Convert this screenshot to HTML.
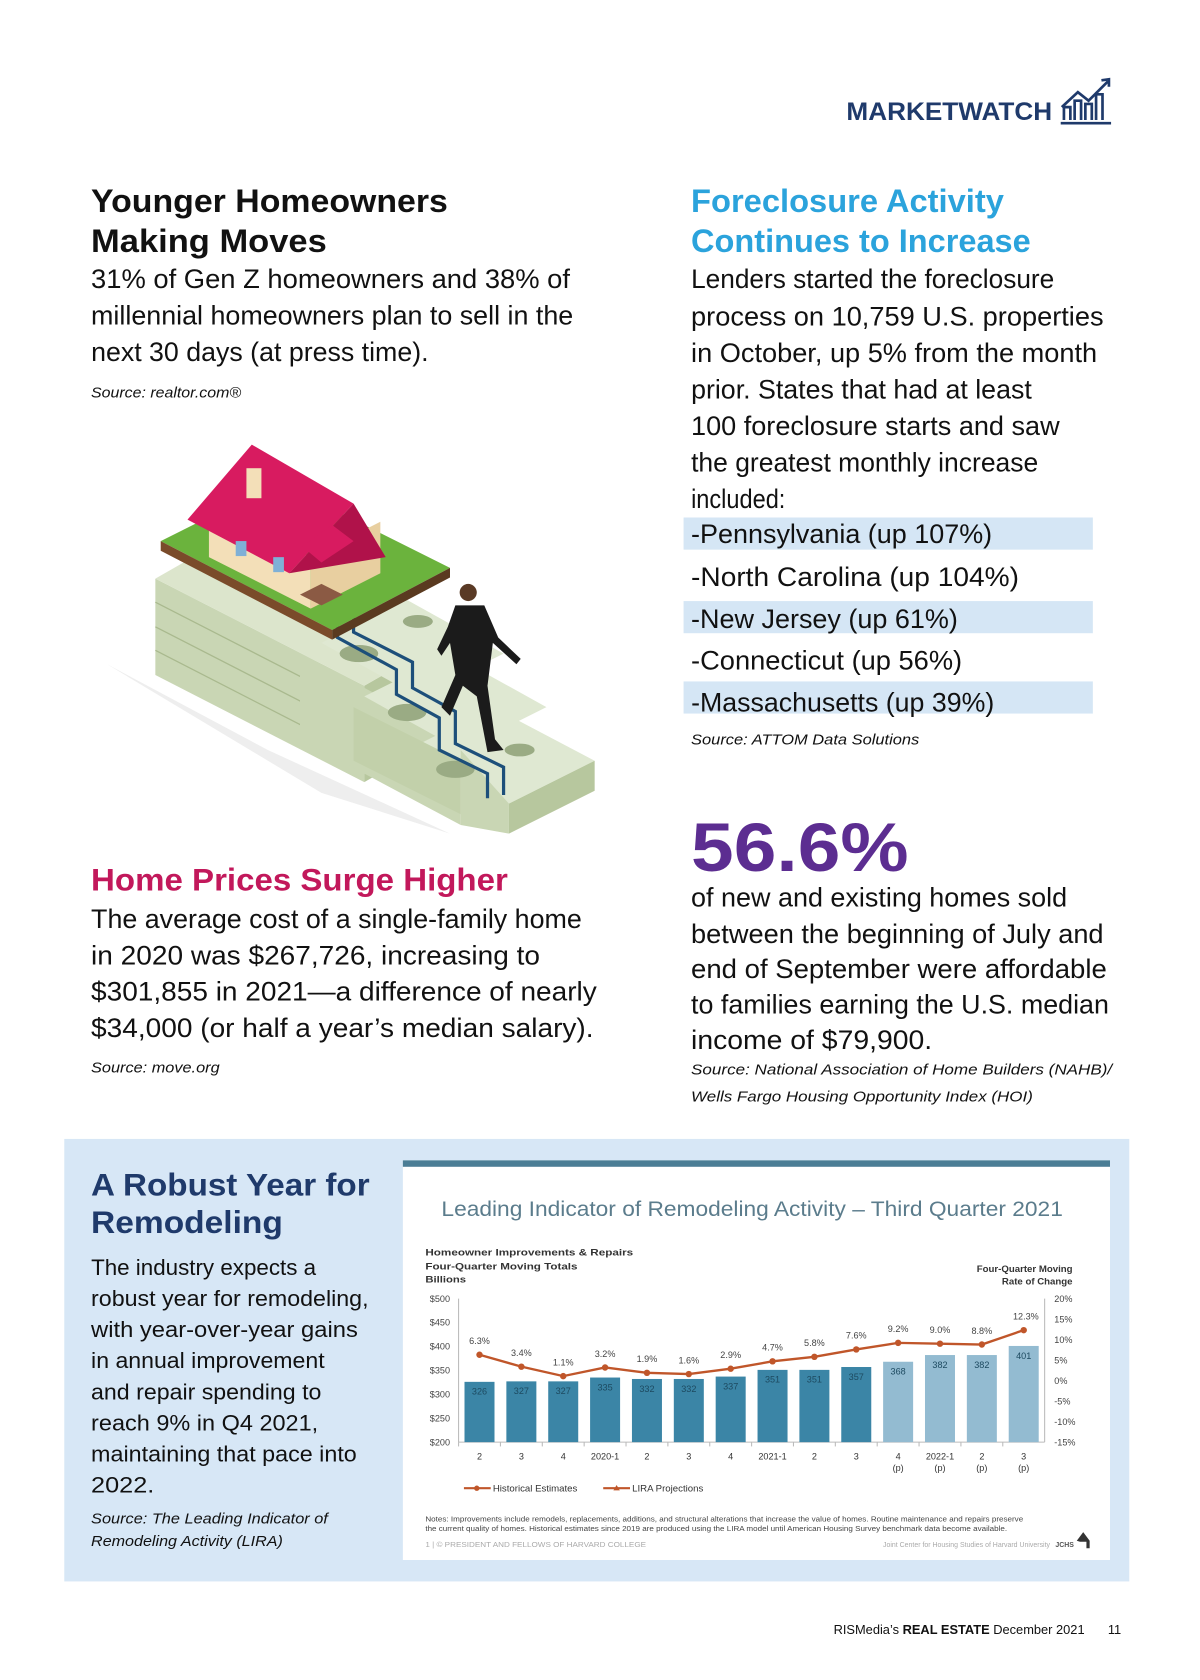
<!DOCTYPE html>
<html><head><meta charset="utf-8"><style>
html,body{margin:0;padding:0;background:#fff;}
svg{display:block;}
text{font-family:"Liberation Sans",sans-serif;}
</style></head><body>
<svg id="page" width="1200" height="1680" viewBox="0 0 1120 1568" xmlns="http://www.w3.org/2000/svg">
<rect x="0" y="0" width="1120" height="1568" fill="#fff"/>
<g>
<text x="790" y="112" font-size="23" font-weight="bold" fill="#1f3a6b" textLength="192" lengthAdjust="spacingAndGlyphs">MARKETWATCH</text>
<g fill="none" stroke="#1f3a6b" stroke-width="2.5">
<path d="M991 100 L1006 86 L1016 94 L1034 76"/><path d="M1028 75 L1035 74 L1035 81"/>
<path d="M993 112 V100 H999 V112 M1003 112 V94 H1009 V112 M1013 112 V97 H1019 V112 M1023 112 V88 H1029 V112"/>
<path d="M990 115 H1037"/>
</g>
</g>
<g>
<text x="85" y="198" font-size="30" font-weight="bold" fill="#111" textLength="333" lengthAdjust="spacingAndGlyphs">Younger Homeowners</text>
<text x="85" y="235" font-size="30" font-weight="bold" fill="#111" textLength="220" lengthAdjust="spacingAndGlyphs">Making Moves</text>
<g font-size="25" fill="#111">
<text x="85" y="269" textLength="447" lengthAdjust="spacingAndGlyphs">31% of Gen Z homeowners and 38% of</text>
<text x="85" y="303" textLength="450" lengthAdjust="spacingAndGlyphs">millennial homeowners plan to sell in the</text>
<text x="85" y="337" textLength="315" lengthAdjust="spacingAndGlyphs">next 30 days (at press time).</text>
</g>
<text x="85" y="371" font-size="14" font-style="italic" fill="#111" textLength="140" lengthAdjust="spacingAndGlyphs">Source: realtor.com®</text>
</g>
<g>
<polygon points="100,620 300,740 420,778 250,700" fill="#eee"/>
<polygon points="145,540 340,640 340,730 145,630" fill="#c9d6b4"/>
<polygon points="340,640 410,600 410,690 340,730" fill="#b7c79e"/>
<polygon points="145,540 215,500 410,600 340,640" fill="#dce5cc"/>
<g stroke="#a9b98e" stroke-width="1.2"><line x1="145" y1="562" x2="340" y2="662"/><line x1="145" y1="585" x2="340" y2="685"/><line x1="145" y1="607" x2="340" y2="707"/></g>
<polygon points="280,610 430,690 430,770 280,690" fill="#c9d6b4"/>
<polygon points="300,600 380,560 470,610 390,650" fill="#dfe8d2"/>
<polygon points="340,650 420,610 510,660 430,700" fill="#dfe8d2"/>
<polygon points="380,700 460,660 555,710 475,750" fill="#dfe8d2"/>
<polygon points="430,700 475,750 475,778 430,770" fill="#c9d6b4"/>
<polygon points="475,750 555,710 555,738 475,778" fill="#b7c79e"/>
<polygon points="330,660 430,710 430,760 330,710" fill="#c2d0aa"/>
<g fill="#9aab84"><ellipse cx="335" cy="610" rx="18" ry="8"/><ellipse cx="380" cy="665" rx="18" ry="8"/><ellipse cx="425" cy="718" rx="18" ry="8"/><ellipse cx="390" cy="580" rx="14" ry="6"/><ellipse cx="485" cy="700" rx="14" ry="6"/></g>
<polyline points="315,570 315,595 370,625 370,648 410,670 410,700 455,722 455,745" fill="none" stroke="#1d4f7a" stroke-width="3"/>
<polyline points="330,562 330,590 385,618 385,642 425,664 425,694 470,716 470,742" fill="none" stroke="#1d4f7a" stroke-width="3"/>
<polygon points="150,505 260,450 420,530 310,588" fill="#6bb33d"/>
<polygon points="150,505 310,588 310,597 150,514" fill="#7a4b2a"/>
<polygon points="310,588 420,530 420,539 310,597" fill="#5a3a20"/>
<polygon points="195,520 290,568 290,520 195,472" fill="#f3dfb8"/>
<polygon points="290,568 355,535 355,487 290,520" fill="#e8cfa0"/>
<polygon points="175,485 235,415 330,470 270,535" fill="#d81b60"/>
<polygon points="270,535 330,470 360,520" fill="#b0124a"/>
<rect x="230" y="437" width="14" height="28" fill="#f3dfb8"/>
<polygon points="282,510 310,490 330,505 300,525" fill="#d81b60"/>
<rect x="220" y="505" width="10" height="14" fill="#7fb0d6"/><rect x="255" y="520" width="10" height="14" fill="#7fb0d6"/>
<polygon points="280,555 300,545 320,555 300,565" fill="#8b5a44"/>
<g fill="#1b1b1b">
<circle cx="437" cy="553" r="8" fill="#5a3a25"/>
<polygon points="425,565 452,565 465,595 486,615 482,620 460,600 455,640 462,690 470,700 455,702 445,650 432,640 420,668 412,660 425,630 420,600 412,612 408,606 418,585"/>
</g>
</g>
<g>
<text x="85" y="831" font-size="29" font-weight="bold" fill="#c2185b" textLength="389" lengthAdjust="spacingAndGlyphs">Home Prices Surge Higher</text>
<g font-size="25" fill="#111">
<text x="85" y="866" textLength="458" lengthAdjust="spacingAndGlyphs">The average cost of a single-family home</text>
<text x="85" y="900" textLength="419" lengthAdjust="spacingAndGlyphs">in 2020 was $267,726, increasing to</text>
<text x="85" y="934" textLength="472" lengthAdjust="spacingAndGlyphs">$301,855 in 2021—a difference of nearly</text>
<text x="85" y="968" textLength="469" lengthAdjust="spacingAndGlyphs">$34,000 (or half a year’s median salary).</text>
</g>
<text x="85" y="1001" font-size="14" font-style="italic" fill="#111" textLength="120" lengthAdjust="spacingAndGlyphs">Source: move.org</text>
</g>
<g>
<text x="645" y="198" font-size="30" font-weight="bold" fill="#2ba3dc" textLength="292" lengthAdjust="spacingAndGlyphs">Foreclosure Activity</text>
<text x="645" y="235" font-size="30" font-weight="bold" fill="#2ba3dc" textLength="317" lengthAdjust="spacingAndGlyphs">Continues to Increase</text>
<g font-size="25" fill="#111">
<text x="645" y="269" textLength="339" lengthAdjust="spacingAndGlyphs">Lenders started the foreclosure</text>
<text x="645" y="304" textLength="385" lengthAdjust="spacingAndGlyphs">process on 10,759 U.S. properties</text>
<text x="645" y="338" textLength="379" lengthAdjust="spacingAndGlyphs">in October, up 5% from the month</text>
<text x="645" y="372" textLength="318" lengthAdjust="spacingAndGlyphs">prior. States that had at least</text>
<text x="645" y="406" textLength="344" lengthAdjust="spacingAndGlyphs">100 foreclosure starts and saw</text>
<text x="645" y="440" textLength="324" lengthAdjust="spacingAndGlyphs">the greatest monthly increase</text>
<text x="645" y="474" textLength="88" lengthAdjust="spacingAndGlyphs">included:</text>
</g>
<g>
<rect x="638" y="483" width="382" height="30" fill="#d5e6f5"/>
<rect x="638" y="561" width="382" height="30" fill="#d5e6f5"/>
<rect x="638" y="636" width="382" height="30" fill="#d5e6f5"/>
<g font-size="25" fill="#111">
<text x="645" y="507" textLength="281" lengthAdjust="spacingAndGlyphs">-Pennsylvania (up 107%)</text>
<text x="645" y="547" textLength="306" lengthAdjust="spacingAndGlyphs">-North Carolina (up 104%)</text>
<text x="645" y="586" textLength="249" lengthAdjust="spacingAndGlyphs">-New Jersey (up 61%)</text>
<text x="645" y="625" textLength="253" lengthAdjust="spacingAndGlyphs">-Connecticut (up 56%)</text>
<text x="645" y="664" textLength="283" lengthAdjust="spacingAndGlyphs">-Massachusetts (up 39%)</text>
</g></g>
<text x="645" y="695" font-size="14" font-style="italic" fill="#111" textLength="213" lengthAdjust="spacingAndGlyphs">Source: ATTOM Data Solutions</text>
</g>
<g>
<text x="645" y="813" font-size="64" font-weight="bold" fill="#5c2d91" textLength="203" lengthAdjust="spacingAndGlyphs">56.6%</text>
<g font-size="25" fill="#111">
<text x="645" y="846" textLength="351" lengthAdjust="spacingAndGlyphs">of new and existing homes sold</text>
<text x="645" y="880" textLength="385" lengthAdjust="spacingAndGlyphs">between the beginning of July and</text>
<text x="645" y="913" textLength="388" lengthAdjust="spacingAndGlyphs">end of September were affordable</text>
<text x="645" y="946" textLength="390" lengthAdjust="spacingAndGlyphs">to families earning the U.S. median</text>
<text x="645" y="979" textLength="225" lengthAdjust="spacingAndGlyphs">income of $79,900.</text>
</g>
<text x="645" y="1003" font-size="14" font-style="italic" fill="#111" textLength="393" lengthAdjust="spacingAndGlyphs">Source: National Association of Home Builders (NAHB)/</text>
<text x="645" y="1028" font-size="14" font-style="italic" fill="#111" textLength="319" lengthAdjust="spacingAndGlyphs">Wells Fargo Housing Opportunity Index (HOI)</text>
</g>
<g>
<rect x="60" y="1063" width="994" height="413" fill="#d7e7f6"/>
<text x="85" y="1116" font-size="29" font-weight="bold" fill="#1f3a6b" textLength="260" lengthAdjust="spacingAndGlyphs">A Robust Year for</text>
<text x="85" y="1151" font-size="29" font-weight="bold" fill="#1f3a6b" textLength="179" lengthAdjust="spacingAndGlyphs">Remodeling</text>
<g font-size="21" fill="#111">
<text x="85" y="1190" textLength="210" lengthAdjust="spacingAndGlyphs">The industry expects a</text>
<text x="85" y="1219" textLength="259" lengthAdjust="spacingAndGlyphs">robust year for remodeling,</text>
<text x="85" y="1248" textLength="249" lengthAdjust="spacingAndGlyphs">with year-over-year gains</text>
<text x="85" y="1277" textLength="218" lengthAdjust="spacingAndGlyphs">in annual improvement</text>
<text x="85" y="1306" textLength="215" lengthAdjust="spacingAndGlyphs">and repair spending to</text>
<text x="85" y="1335" textLength="212" lengthAdjust="spacingAndGlyphs">reach 9% in Q4 2021,</text>
<text x="85" y="1364" textLength="248" lengthAdjust="spacingAndGlyphs">maintaining that pace into</text>
<text x="85" y="1393" textLength="59" lengthAdjust="spacingAndGlyphs">2022.</text>
</g>
<text x="85" y="1422" font-size="14" font-style="italic" fill="#111" textLength="221" lengthAdjust="spacingAndGlyphs">Source: The Leading Indicator of</text>
<text x="85" y="1443" font-size="14" font-style="italic" fill="#111" textLength="179" lengthAdjust="spacingAndGlyphs">Remodeling Activity (LIRA)</text>
</g>
<g id="chart">
<rect x="376" y="1083" width="660" height="373" fill="#fff"/>
<rect x="376" y="1083" width="660" height="6" fill="#4b7d95"/>
<text x="412" y="1135" font-size="20" fill="#5b7c8c" textLength="580" lengthAdjust="spacingAndGlyphs">Leading Indicator of Remodeling Activity – Third Quarter 2021</text>
<g font-size="9" font-weight="bold" fill="#333">
<text x="397" y="1172" textLength="194" lengthAdjust="spacingAndGlyphs">Homeowner Improvements &amp; Repairs</text>
<text x="397" y="1185" textLength="142" lengthAdjust="spacingAndGlyphs">Four-Quarter Moving Totals</text>
<text x="397" y="1197" textLength="38" lengthAdjust="spacingAndGlyphs">Billions</text>
<text x="1001" y="1187" text-anchor="end">Four-Quarter Moving</text>
<text x="1001" y="1199" text-anchor="end">Rate of Change</text>
</g>
<g id="plot"></g>
<g font-size="9" fill="#333">
<line x1="433" y1="1389" x2="458" y2="1389" stroke="#c0562a" stroke-width="2"/><circle cx="445" cy="1389" r="2.5" fill="#c0562a"/>
<text x="460" y="1392">Historical Estimates</text>
<line x1="563" y1="1389" x2="588" y2="1389" stroke="#c0562a" stroke-width="2"/><polygon points="575.5,1386 578.5,1391 572.5,1391" fill="#c0562a"/>
<text x="590" y="1392">LIRA Projections</text>
</g>
<g font-size="6.5" fill="#444">
<text x="397" y="1420" textLength="558" lengthAdjust="spacingAndGlyphs">Notes: Improvements include remodels, replacements, additions, and structural alterations that increase the value of homes. Routine maintenance and repairs preserve</text>
<text x="397" y="1429" textLength="543" lengthAdjust="spacingAndGlyphs">the current quality of homes. Historical estimates since 2019 are produced using the LIRA model until American Housing Survey benchmark data become available.</text>
<text x="397" y="1444" fill="#aaa" textLength="206" lengthAdjust="spacingAndGlyphs">1 | © PRESIDENT AND FELLOWS OF HARVARD COLLEGE</text>
<text x="980" y="1444" fill="#aaa" text-anchor="end">Joint Center for Housing Studies of Harvard University</text>
<text x="985" y="1444" font-weight="bold" fill="#555">JCHS</text>
</g>
<polygon points="1005,1438 1011,1430 1017,1438 1017,1445 1014,1445 1014,1439 1008,1439" fill="#333"/>
</g>
<g font-size="12" fill="#111">
<text x="778" y="1525">RISMedia’s <tspan font-weight="bold">REAL ESTATE</tspan> December 2021</text>
<text x="1034" y="1525">11</text>
</g>
</svg>
<script>
const categories = ["2","3","4","2020-1","2","3","4","2021-1","2","3","4","2022-1","2","3"];
const projected = [false,false,false,false,false,false,false,false,false,false,true,true,true,true];
const spending = [326,327,327,335,332,332,337,351,351,357,368,382,382,401];
const rateOfChange = [6.3,3.4,1.1,3.2,1.9,1.6,2.9,4.7,5.8,7.6,9.2,9.0,8.8,12.3];
const leftTicks = [200,250,300,350,400,450,500];
const rightTicks = [-15,-10,-5,0,5,10,15,20];

const NS = "http://www.w3.org/2000/svg";
const plot = document.getElementById('plot');
const X0 = 428, X1 = 975, YB = 1346, YT = 1212;
const step = (X1 - X0) / categories.length;
function xPos(i){ return X0 + step * (i + 0.5); }
function yLeft(v){ return YB - (v - leftTicks[0]) / (leftTicks[leftTicks.length-1] - leftTicks[0]) * (YB - YT); }
function yRight(v){ return YB - (v - rightTicks[0]) / (rightTicks[rightTicks.length-1] - rightTicks[0]) * (YB - YT); }
function mk(tag, attrs, txt){ const e = document.createElementNS(NS, tag); for (const k in attrs) e.setAttribute(k, attrs[k]); if (txt !== undefined) e.textContent = txt; plot.appendChild(e); return e; }

let el;
el = mk('line', {x1:X0, y1:YT, x2:X0, y2:YB, stroke:'#bbb'});


el = mk('line', {x1:X1, y1:YT, x2:X1, y2:YB, stroke:'#bbb'});


el = mk('line', {x1:X0, y1:YB, x2:X1, y2:YB, stroke:'#bbb'});


leftTicks.forEach(v => {
  el = mk('text', {x:420, y:yLeft(v)+3, 'font-size':8.5, fill:'#444', 'text-anchor':'end'}, '$' + v);
  
  
});
rightTicks.forEach(v => {
  el = mk('text', {x:984, y:yRight(v)+3, 'font-size':8.5, fill:'#444'}, v + '%');
  
  
});
categories.forEach((c, i) => {
  const x = xPos(i);
  mk('line', {x1:X0+step*i, y1:YB, x2:X0+step*i, y2:YB+4, stroke:'#bbb'});
  const h = yLeft(spending[i]);
  el = mk('rect', {x:x-14, y:h, width:28, height:YB-h, fill: projected[i] ? '#93bbd1' : '#3b85a6'});
  
  
  el = mk('text', {x:x, y:h+12, 'font-size':8.5, fill:'#1d4a60', 'text-anchor':'middle'}, String(spending[i]));
  
  
  el = mk('text', {x:x, y:YB+16, 'font-size':8.5, fill:'#333', 'text-anchor':'middle'}, c);
  
  
  if (projected[i]) {
    el = mk('text', {x:x, y:YB+27, 'font-size':8.5, fill:'#333', 'text-anchor':'middle'}, '(p)');
    
    
  }
});
const pts = rateOfChange.map((v, i) => xPos(i) + ',' + yRight(v)).join(' ');
el = mk('polyline', {points:pts, fill:'none', stroke:'#c0562a', 'stroke-width':2.2});


rateOfChange.forEach((v, i) => {
  el = mk('circle', {cx:xPos(i), cy:yRight(v), r:3, fill:'#c0562a'});
  
  
  el = mk('text', {x:xPos(i) + (i === rateOfChange.length-1 ? 2 : 0), y:yRight(v)-10, 'font-size':8.5, fill:'#444', 'text-anchor':'middle'}, v.toFixed(1) + '%');
  
  
});
</script>
</body></html>
